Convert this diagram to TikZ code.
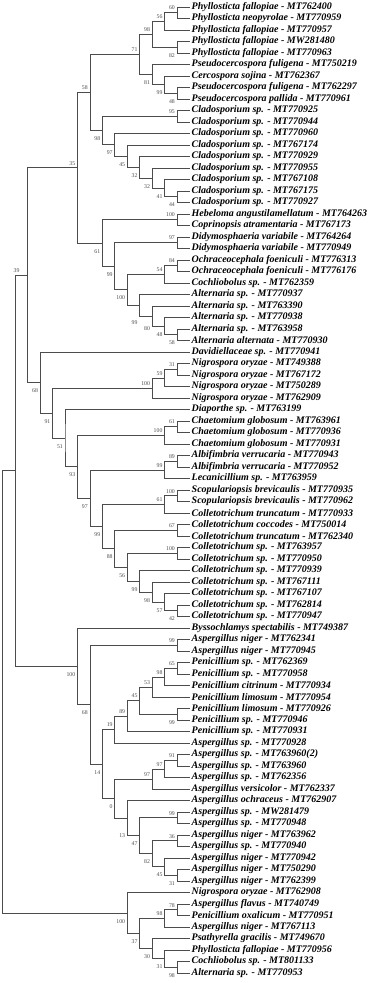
\documentclass[tikz,border=0pt]{standalone}
\usepackage{fontspec}
\setmainfont{Liberation Serif}
\usetikzlibrary{calc}

\begin{document}
\begin{tikzpicture}[x=1pt, y=-1pt,
        leaf/.style={anchor=west, inner xsep=2pt, inner ysep=0pt, font=\fontsize{10}{12}\selectfont\bfseries\itshape},
        boot/.style={inner sep=0pt, text=black!70, font=\fontsize{5.8}{6}\selectfont},
        up/.style={anchor=south east, xshift=-2pt, yshift=2.5pt},
        dn/.style={anchor=north east, xshift=-2pt, yshift=-6pt},
        upl/.style={up, xshift=-6pt},
        dnm/.style={dn, yshift=-4pt},
        dnx/.style={dn, yshift=-9pt},
        branch/.style={draw=black!70, line width=0.7pt}]

    \useasboundingbox (0,0) rectangle (368,983);

    % Liscie
    \foreach \t [count=\i] in {
        Phyllosticta fallopiae - MT762400, Phyllosticta neopyrolae - MT770959,
        Phyllosticta fallopiae - MT770957, Phyllosticta fallopiae - MW281480,
        Phyllosticta fallopiae - MT770963, Pseudocercospora fuligena - MT750219,
        Cercospora sojina - MT762367, Pseudocercospora fuligena - MT762297,
        Pseudocercospora pallida - MT770961, Cladosporium sp. - MT770925,
        Cladosporium sp. - MT770944, Cladosporium sp. - MT770960,
        Cladosporium sp. - MT767174, Cladosporium sp. - MT770929,
        Cladosporium sp. - MT770955, Cladosporium sp. - MT767108,
        Cladosporium sp. - MT767175, Cladosporium sp. - MT770927,
        Hebeloma angustilamellatum - MT764263, Coprinopsis atramentaria - MT767173,
        Didymosphaeria variabile - MT764264, Didymosphaeria variabile - MT770949,
        Ochraceocephala foeniculi - MT776313, Ochraceocephala foeniculi - MT776176,
        Cochliobolus sp. - MT762359, Alternaria sp. - MT770937,
        Alternaria sp. - MT763390, Alternaria sp. - MT770938,
        Alternaria sp. - MT763958, Alternaria alternata - MT770930,
        Davidiellaceae sp. - MT770941, Nigrospora oryzae - MT749388,
        Nigrospora oryzae - MT767172, Nigrospora oryzae - MT750289,
        Nigrospora oryzae - MT762909, Diaporthe sp. - MT763199,
        Chaetomium globosum - MT763961, Chaetomium globosum - MT770936,
        Chaetomium globosum - MT770931, Albifimbria verrucaria - MT770943,
        Albifimbria verrucaria - MT770952, Lecanicillium sp. - MT763959,
        Scopulariopsis brevicaulis - MT770935, Scopulariopsis brevicaulis - MT770962,
        Colletotrichum truncatum - MT770933, Colletotrichum coccodes - MT750014,
        Colletotrichum truncatum - MT762340, Colletotrichum sp. - MT763957,
        Colletotrichum sp. - MT770950, Colletotrichum sp. - MT770939,
        Colletotrichum sp. - MT767111, Colletotrichum sp. - MT767107,
        Colletotrichum sp. - MT762814, Colletotrichum sp. - MT770947,
        Byssochlamys spectabilis - MT749387, Aspergillus niger - MT762341,
        Aspergillus niger - MT770945, Penicillium sp. - MT762369,
        Penicillium sp. - MT770958, Penicillium citrinum - MT770934,
        Penicillium limosum - MT770954, Penicillium limosum - MT770926,
        Penicillium sp. - MT770946, Penicillium sp. - MT770931,
        Aspergillus sp. - MT770928, Aspergillus sp. - MT763960(2),
        Aspergillus sp. - MT763960, Aspergillus sp. - MT762356,
        Aspergillus versicolor - MT762337, Aspergillus ochraceus - MT762907,
        Aspergillus sp. - MW281479, Aspergillus sp. - MT770948,
        Aspergillus niger - MT763962, Aspergillus sp. - MT770940,
        Aspergillus niger - MT770942, Aspergillus niger - MT750290,
        Aspergillus niger - MT762399, Nigrospora oryzae - MT762908,
        Aspergillus flavus - MT740749, Penicillium oxalicum - MT770951,
        Aspergillus niger - MT767113, Psathyrella gracilis - MT749670,
        Phyllosticta fallopiae - MT770956, Cochliobolus sp. - MT801133,
        Alternaria sp. - MT770953}
        \node[leaf] (l\i) at (189.5, {7+(\i-1)*11.5}) {\t};

    % Klady: nazwa/poziom/gorne/dolne/bootstrap/etykieta
    \foreach \cl/\k/\a/\b/\v/\s in {
        phyA/1/l1/l2/60/up, phyB/2/phyA/l3/56/up, phyD/1/l4/l5/82/dn,
        phyC/3/phyB/phyD/98/up, psG/1/l8/l9/48/dn, psF/2/l7/psG/99/dn,
        psE/3/l6/psF/81/dn, phyH/4/phyC/psE/71/up,
        cla1/1/l10/l11/95/up, cla7/1/l17/l18/44/dn, cla6/2/l16/cla7/41/dn,
        cla5/3/l15/cla6/32/dn, cla4/4/l14/cla5/32/dn, cla3/5/l13/cla4/45/dn,
        cla2/6/l12/cla3/97/dn, claJ/7/cla1/cla2/98/dn, grI/8/phyH/claJ/58/up,
        heb1/1/l19/l20/100/up, did1/1/l21/l22/97/up, och1/1/l23/l24/84/up,
        och2/2/och1/l25/54/up, alt1/1/l29/l30/58/dn, alt2/2/l28/alt1/48/dn,
        alt3/3/l27/alt2/80/dnm, alt4/4/l26/alt3/99/dnx, alt5/5/och2/alt4/100/dn,
        did2/6/did1/alt5/99/dn, heb2/7/heb1/did2/61/dn, grK/9/grI/heb2/35/up,
        nig1/1/l32/l33/31/up, nig2/2/nig1/l34/59/up, nig3/3/nig2/l35/100/up,
        cha1/1/l37/l38/61/up, cha2/2/cha1/l39/100/up, alb1/1/l40/l41/89/up,
        alb2/2/alb1/l42/99/up, sco1/1/l43/l44/100/up, sco2/2/sco1/l45/61/up,
        col1/1/l46/l47/67/up, col2/1/l48/l49/100/up, col3/1/l53/l54/42/dn,
        col4/2/l52/col3/57/dn, col5/3/l51/col4/98/dn, col6/4/l50/col5/99/dn,
        col7/5/col2/col6/56/dn, col8/6/col1/col7/88/dn, sco3/7/sco2/col8/99/dn,
        alb3/8/alb2/sco3/97/dn, cha3/9/cha2/alb3/93/dn, dia/10/l36/cha3/51/dn,
        nig4/11/nig3/dia/91/dn, dav/12/l31/nig4/68/dn, grM/13/grK/dav/39/upl,
        asn1/1/l56/l57/99/up, pen1/1/l58/l59/65/up, pen2/2/pen1/l60/98/up,
        pen3/3/pen2/l61/53/up, pen4/1/l62/l63/99/dn, pen5/4/pen3/pen4/45/up,
        pen6/5/pen5/l64/89/up, pen7/6/pen6/l65/19/up, asp1/1/l66/l67/91/up,
        asp2/2/asp1/l68/97/up, asp3/3/asp2/l69/97/up, asp4/1/l71/l72/99/up,
        asp5/1/l73/l74/36/up, asp6/1/l76/l77/31/dn, asp7/2/l75/asp6/45/dn,
        asp8/3/asp5/asp7/82/dn, asp9/4/asp4/asp8/47/dn, asp10/5/l70/asp9/13/dnx,
        asp11/6/asp3/asp10/0/dn, asp12/7/pen7/asp11/14/dn, asn2/8/asn1/asp12/68/dn,
        bys/9/l55/asn2/100/dn, grT/14/grM/bys//up,
        fla1/1/l79/l80/78/up, fla2/2/fla1/l81/98/up, alt6/1/l84/l85/98/dn,
        alt7/2/l83/alt6/31/dn, alt8/3/l82/alt7/30/dn, fla3/4/fla2/alt8/37/dn,
        nig5/5/l78/fla3/100/dn, root/15/grT/nig5//up}
    {
        \path let \p1=($(\a)!0.5!(\b)$) in coordinate (\cl) at ({(189.5-12.45*\k)*1pt}, \y1);
        \draw[branch] (\a) -| (\cl) |- (\b);
        \node[boot, \s] (b\cl) at (\cl) {\v};
    }

\end{tikzpicture}
\end{document}
